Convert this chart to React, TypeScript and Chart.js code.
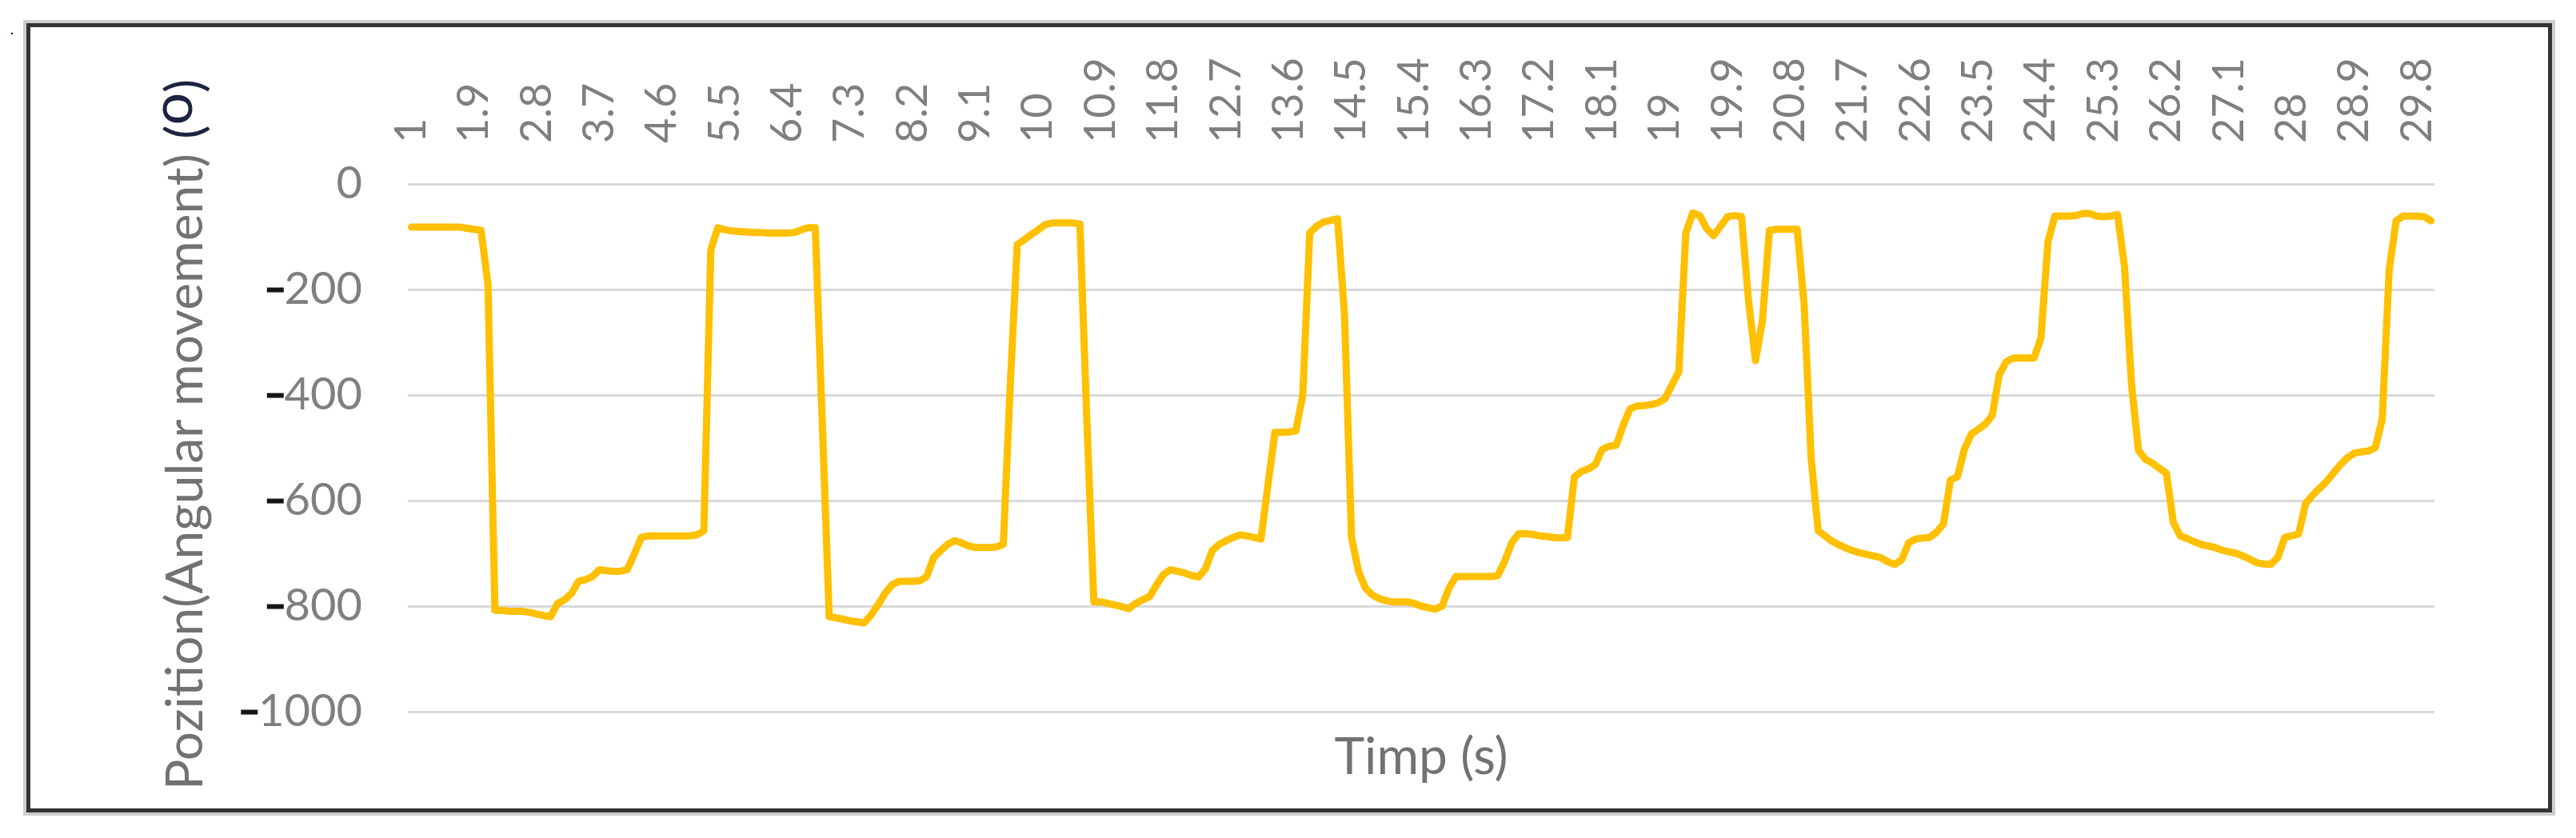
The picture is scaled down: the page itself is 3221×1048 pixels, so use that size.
import React, { useEffect, useRef } from 'react';
import { Chart, registerables } from 'chart.js';

Chart.register(...registerables);

// ---- data ----
// time categories 1.0 s ... 30.0 s, one sample every 0.1 s
const TIME_LABELS: string[] = Array.from({ length: 291 }, (_, i) => String((10 + i) / 10));
const LABEL_EVERY = 9;

const POSITION: number[] = [
  -82, -82, -82, -82, -82, -82, -82, -82, -84, -86,
  -88, -190, -808, -808, -810, -810, -810, -812, -815, -818,
  -820, -795, -788, -776, -753, -750, -744, -731, -733, -734,
  -734, -731, -702, -670, -667, -667, -667, -667, -667, -667,
  -667, -665, -657, -125, -83, -87, -89, -90, -91, -92,
  -92, -93, -93, -93, -93, -92, -87, -83, -83, -450,
  -820, -822, -825, -828, -830, -832, -817, -798, -776, -760,
  -753, -753, -753, -752, -744, -708, -695, -683, -676, -680,
  -686, -689, -689, -689, -688, -683, -380, -115, -106, -96,
  -87, -77, -74, -74, -74, -74, -76, -450, -792, -792,
  -795, -798, -801, -805, -795, -788, -782, -760, -740, -731,
  -734, -737, -742, -745, -730, -695, -683, -676, -670, -665,
  -667, -670, -673, -570, -471, -471, -470, -468, -400, -93,
  -80, -72, -69, -66, -250, -670, -734, -766, -779, -786,
  -790, -792, -792, -792, -795, -800, -803, -806, -800, -766,
  -744, -744, -744, -744, -744, -744, -742, -715, -680, -663,
  -663, -664, -667, -668, -670, -671, -670, -555, -545, -540,
  -532, -503, -497, -495, -458, -426, -421, -420, -418, -415,
  -407, -381, -356, -93, -55, -60, -85, -98, -80, -62,
  -60, -62, -220, -335, -260, -88, -86, -86, -86, -86,
  -230, -520, -657, -667, -677, -684, -690, -695, -699, -702,
  -705, -708, -716, -721, -712, -680, -673, -671, -670, -660,
  -644, -561, -555, -503, -474, -465, -455, -439, -362, -337,
  -330, -330, -330, -330, -292, -110, -61, -61, -61, -60,
  -56, -56, -61, -62, -61, -58, -157, -380, -505, -522,
  -529, -539, -548, -641, -667, -672, -678, -683, -686, -689,
  -694, -697, -700, -705, -711, -718, -720, -721, -708, -670,
  -667, -663, -606, -590, -577, -564, -548, -532, -519, -510,
  -508, -506, -500, -446, -163, -70, -61, -61, -61, -62,
  -70,
];

const Y_MIN = -1000;
const Y_MAX = 0;
const Y_STEP = 200;

const X_TITLE = 'Timp (s)';
const Y_TITLE_MAIN = 'Pozition(Angular movement)';
const Y_TITLE_UNIT = ['(', 'o', ')'];

// ---- styling ----
const FONT = 'Lato, "Open Sans", "Noto Sans", sans-serif';
const TEXT_GRAY = '#7f7f7f';
const LINE_COLOR = '#FFC000';
const GRID_COLOR = '#d9d9d9';
const X_TICK_SIZE = 54;
const Y_TICK_SIZE = 56;
const Y_TICK_PAD = 57;
const Y_AXIS_WIDTH = 510;

const yTitlePlugin = {
  id: 'yTitleCustom',
  afterDraw(chart: any) {
    const ctx: CanvasRenderingContext2D = chart.ctx;
    const baseX = 253; // baseline x of the rotated title
    const startY = 988; // where the first letter starts (bottom)
    const targetLen = 796; // length of the main title text
    ctx.save();
    ctx.font = `60px ${FONT}`;
    const w60 = ctx.measureText(Y_TITLE_MAIN).width;
    const size = Math.min(70, (60 * targetLen) / w60);
    ctx.translate(baseX, startY);
    ctx.rotate(-Math.PI / 2);
    ctx.textAlign = 'left';
    ctx.textBaseline = 'alphabetic';
    ctx.font = `${size}px ${FONT}`;
    ctx.fillStyle = '#727272';
    ctx.fillText(Y_TITLE_MAIN, 0, 0);
    let x = ctx.measureText(Y_TITLE_MAIN + ' ').width + 2;
    ctx.fillStyle = '#1c2440';
    ctx.fillText(Y_TITLE_UNIT[0], x, 0);
    x += ctx.measureText(Y_TITLE_UNIT[0]).width;
    ctx.font = `${size * 1.12}px ${FONT}`;
    ctx.fillText(Y_TITLE_UNIT[1], x, -size * 0.2);
    x += ctx.measureText(Y_TITLE_UNIT[1]).width;
    ctx.font = `${size}px ${FONT}`;
    ctx.fillText(Y_TITLE_UNIT[2], x, 0);
    ctx.restore();
  },
};

// the minus signs of the value labels are dark in the reference
const minusPlugin = {
  id: 'darkMinus',
  afterDraw(chart: any) {
    const ctx: CanvasRenderingContext2D = chart.ctx;
    const y = chart.scales.y;
    ctx.save();
    ctx.font = `${Y_TICK_SIZE}px ${FONT}`;
    ctx.textBaseline = 'middle';
    ctx.textAlign = 'left';
    const m = ctx.measureText('-');
    y.ticks.forEach((t: any) => {
      if (t.value >= 0) return;
      const label = String(t.value);
      const w = ctx.measureText(label).width;
      const left = y.right - Y_TICK_PAD - w;
      const py = y.getPixelForValue(t.value);
      const inkL = left - (m.actualBoundingBoxLeft || 0);
      const inkR = left + (m.actualBoundingBoxRight || m.width);
      const top = py - (m.actualBoundingBoxAscent || 0);
      const bot = py + (m.actualBoundingBoxDescent || 0);
      ctx.fillStyle = '#151515';
      ctx.fillRect(inkL - 4, top - 0.5, inkR - inkL + 6, Math.max(4.5, bot - top + 1));
    });
    ctx.restore();
  },
};

export default function App() {
  const canvasRef = useRef<HTMLCanvasElement | null>(null);

  useEffect(() => {
    const canvas = canvasRef.current;
    if (!canvas) return;
    const chart = new Chart(canvas, {
      type: 'line',
      data: {
        labels: TIME_LABELS,
        datasets: [
          {
            data: POSITION,
            borderColor: LINE_COLOR,
            backgroundColor: LINE_COLOR,
            borderWidth: 9,
            pointRadius: 0,
            pointHoverRadius: 0,
            tension: 0,
            fill: false,
            borderJoinStyle: 'round',
            borderCapStyle: 'round',
            xAxisID: 'x',
            yAxisID: 'y',
          },
        ],
      },
      options: {
        animation: false,
        responsive: true,
        maintainAspectRatio: false,
        devicePixelRatio: 1,
        layout: { padding: { left: 0, top: 0, right: 177, bottom: 0 } },
        plugins: {
          legend: { display: false },
          tooltip: { enabled: false },
        },
        scales: {
          x: {
            type: 'category',
            position: 'top',
            offset: true,
            grid: { display: false },
            border: { display: false },
            ticks: {
              autoSkip: false,
              minRotation: 90,
              maxRotation: 90,
              padding: 43,
              labelOffset: X_TICK_SIZE * 1.2,
              color: TEXT_GRAY,
              font: { family: FONT, size: X_TICK_SIZE },
              callback: function (this: any, value: any, index: number) {
                return index % LABEL_EVERY === 0 ? this.getLabelForValue(value) : '';
              },
            },
            afterFit: (s: any) => {
              s.height = 230;
            },
          },
          x2: {
            type: 'category',
            position: 'bottom',
            offset: true,
            grid: { display: false },
            border: { display: false },
            ticks: { display: false },
            title: {
              display: true,
              text: X_TITLE,
              color: '#727272',
              font: { family: FONT, size: 64 },
              padding: { top: 0, bottom: 62 },
            },
            afterFit: (s: any) => {
              s.height = 158;
            },
          },
          y: {
            type: 'linear',
            position: 'left',
            min: Y_MIN,
            max: Y_MAX,
            grid: { color: GRID_COLOR, lineWidth: 3, drawTicks: false },
            border: { display: false },
            ticks: {
              stepSize: Y_STEP,
              padding: Y_TICK_PAD,
              color: TEXT_GRAY,
              font: { family: FONT, size: Y_TICK_SIZE },
              callback: (v: any) => String(v),
            },
            afterFit: (s: any) => {
              s.width = Y_AXIS_WIDTH;
            },
          },
        },
      } as any,
      plugins: [yTitlePlugin, minusPlugin],
    });
    return () => chart.destroy();
  }, []);

  return (
    <div style={{ position: 'absolute', left: 0, top: 0, width: 3221, height: 1048, background: '#ffffff', overflow: 'hidden' }}>
      <span
        style={{
          position: 'absolute',
          left: 12,
          top: 26,
          fontFamily: '"Liberation Sans", sans-serif',
          fontSize: 20,
          lineHeight: '20px',
          color: '#000',
        }}
      >
        .
      </span>
      <div
        style={{
          position: 'absolute',
          left: 33,
          top: 29,
          width: 3158,
          height: 987,
          boxSizing: 'border-box',
          border: '5px solid #333333',
          boxShadow: '0 0 0 4px #cdcdcd',
        }}
      />
      <div style={{ position: 'absolute', left: 0, top: 0, width: 3221, height: 1048 }}>
        <canvas ref={canvasRef} />
      </div>
    </div>
  );
}
